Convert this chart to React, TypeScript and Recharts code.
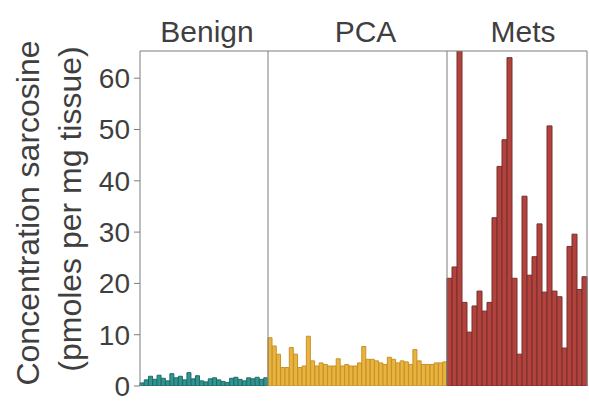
import React from "react";
import { BarChart, Bar, XAxis, YAxis, Label, Cell } from "recharts";

// sarcosine per sample
const BENIGN = [
  0.6, 1.2, 1.9, 1.3, 2.1, 1.5, 1.0, 2.4, 1.6, 1.9, 1.2, 2.6, 1.4, 2.0, 1.0,
  0.8, 1.4, 1.6, 1.2, 0.9, 0.7, 1.5, 1.7, 1.3, 1.0, 1.6, 1.4, 1.7, 1.3, 1.6,
];
const PCA = [
  9.4, 7.8, 6.2, 3.6, 3.6, 7.5, 6.2, 3.6, 3.9, 9.7, 4.9, 3.9, 4.5, 4.2, 3.9,
  3.9, 5.3, 3.9, 4.2, 3.9, 3.9, 4.5, 7.7, 5.2, 5.2, 4.9, 4.5, 4.2, 5.6, 5.2,
  4.5, 4.9, 4.7, 4.2, 7.1, 4.9, 4.2, 4.2, 4.2, 4.5, 4.5, 4.7,
];
const METS = [
  21, 23.2, 68, 16.3, 10.5, 15.6, 18.5, 14.6, 16.3, 32.8, 42.8, 48, 64, 21,
  6.2, 37, 21.6, 25.2, 31.6, 18.3, 50.7, 18.5, 17.4, 7.4, 27.2, 29.6, 18.8, 21.3,
];
const Y_TICKS = [0, 10, 20, 30, 40, 50, 60];
const Y_MAX = 65.3;

const FONT = "'Liberation Sans', Arial, sans-serif";
const TEXT = "#3f3f3f";
const FRAME = "#7d7d7d";
const H = 404;
const TOP = 50;
const BASE = 386;

const toRows = (prefix: string, vals: number[]) =>
  vals.map((v, i) => ({ id: `${prefix}${i + 1}`, value: v }));

function YTitle() {
  return (
    <g fontFamily={FONT} fontSize={32} fill={TEXT}>
      <text
        x={28}
        y={213}
        textAnchor="middle"
        dominantBaseline="central"
        transform="rotate(-90 28 213)"
      >
        Concentration sarcosine
      </text>
      <text
        x={70}
        y={209}
        textAnchor="middle"
        dominantBaseline="central"
        transform="rotate(-90 70 209)"
      >
        (pmoles per mg tissue)
      </text>
    </g>
  );
}

interface PanelProps {
  left: number;
  width: number;
  title: string;
  titleDx: number;
  values: number[];
  prefix: string;
  fill: string;
  stroke: string;
  withTicks?: boolean;
  rightBorder?: boolean;
}

function Panel({
  left,
  width,
  title,
  titleDx,
  values,
  prefix,
  fill,
  stroke,
  withTicks,
  rightBorder,
}: PanelProps) {
  const data = toRows(prefix, values);
  return (
    <div style={{ position: "absolute", left, top: 0 }}>
      <BarChart
        width={width}
        height={H}
        data={data}
        barCategoryGap={0}
        margin={{ top: TOP, right: 0, bottom: H - BASE, left: 0 }}
      >
        <XAxis
          dataKey="id"
          orientation="top"
          height={1}
          tick={false}
          tickLine={false}
          axisLine={{ stroke: FRAME }}
        >
          <Label
            content={(props: any) => {
              const vb = props.viewBox || { x: 0, width };
              return (
                <text
                  x={vb.x + vb.width / 2 + titleDx}
                  y={42}
                  textAnchor="middle"
                  fontFamily={FONT}
                  fontSize={30}
                  fill={TEXT}
                >
                  {title}
                </text>
              );
            }}
          />
        </XAxis>
        <YAxis
          domain={[0, Y_MAX]}
          allowDataOverflow
          ticks={Y_TICKS}
          interval={0}
          width={withTicks ? 140 : 1}
          tick={withTicks ? { fontSize: 28, fill: TEXT, fontFamily: FONT } : false}
          tickLine={withTicks ? { stroke: FRAME } : false}
          tickSize={6}
          tickMargin={4}
          axisLine={{ stroke: FRAME }}
        >
          {withTicks && <Label content={() => <YTitle />} />}
        </YAxis>
        {rightBorder && (
          <YAxis
            yAxisId="r"
            orientation="right"
            domain={[0, Y_MAX]}
            width={1}
            tick={false}
            tickLine={false}
            axisLine={{ stroke: FRAME }}
          />
        )}
        <Bar dataKey="value" isAnimationActive={false} stroke={stroke} strokeWidth={1}>
          {data.map((_d, i) => (
            <Cell key={`c-${i}`} fill={fill} />
          ))}
        </Bar>
      </BarChart>
    </div>
  );
}

export default function App() {
  return (
    <div
      style={{
        position: "absolute",
        left: 0,
        top: 0,
        width: 589,
        height: H,
        background: "#fff",
        overflow: "hidden",
      }}
    >
      <Panel
        left={0}
        width={268}
        title="Benign"
        titleDx={3}
        values={BENIGN}
        prefix="B"
        fill="#2f9590"
        stroke="#216b67"
        withTicks
      />
      <Panel
        left={267}
        width={180}
        title="PCA"
        titleDx={8}
        values={PCA}
        prefix="P"
        fill="#e8b43e"
        stroke="#c89028"
      />
      <Panel
        left={446}
        width={142}
        title="Mets"
        titleDx={6}
        values={METS}
        prefix="M"
        fill="#b3423c"
        stroke="#74302e"
        rightBorder
      />
    </div>
  );
}
